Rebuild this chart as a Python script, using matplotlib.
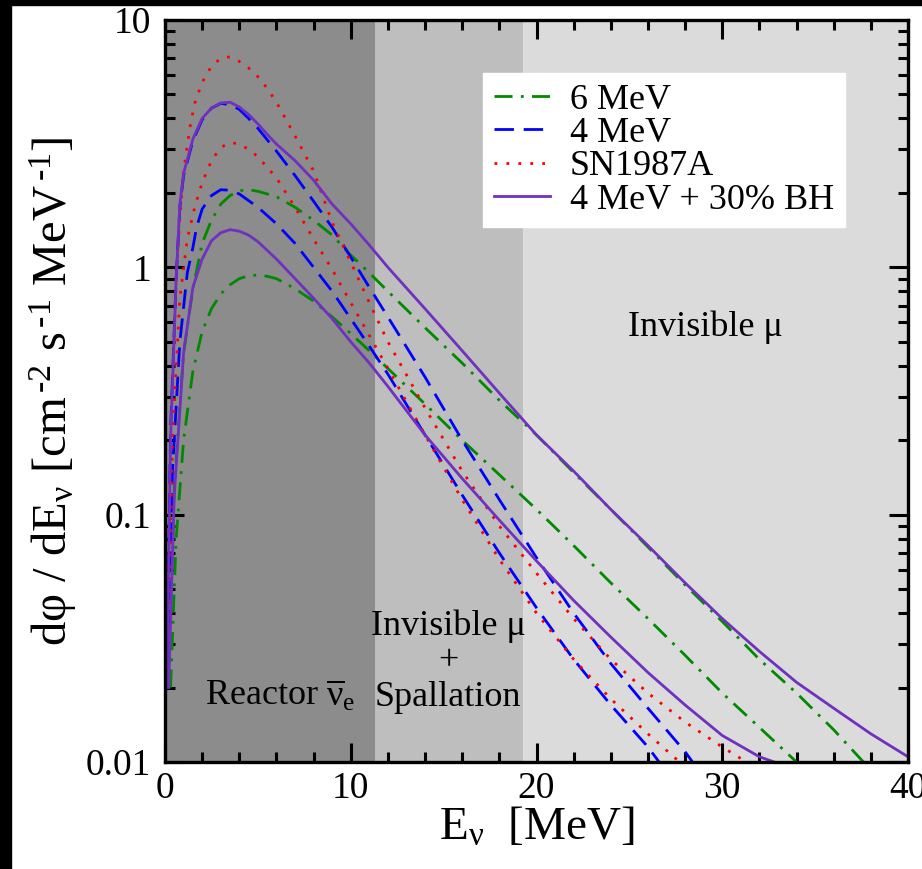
import matplotlib
matplotlib.use("Agg")
import matplotlib.pyplot as plt
from matplotlib.patches import Rectangle
from matplotlib.ticker import MultipleLocator, LogLocator, NullFormatter, FixedLocator, FixedFormatter

plt.rcParams['font.family'] = ['Liberation Serif', 'DejaVu Serif']
plt.rcParams['mathtext.fontset'] = 'custom'
plt.rcParams['mathtext.rm'] = 'Liberation Serif'
plt.rcParams['mathtext.it'] = 'Liberation Serif'
plt.rcParams['mathtext.default'] = 'regular'

# --- data (E in MeV, flux in cm^-2 s^-1 MeV^-1) ---
e_6u = [0.2, 0.5, 1, 1.5, 2, 2.5, 3, 3.5, 4, 4.5, 5, 6, 7, 8, 9, 10, 11, 12, 14, 16, 18, 20, 22, 24, 26, 28, 30, 32, 34, 36, 37.6]
f_6u = [0.02, 0.13, 0.45, 0.82, 1.25, 1.55, 1.8, 1.95, 2.04, 2.06, 2.03, 1.93, 1.75, 1.55, 1.35, 1.12, 0.95, 0.8, 0.57, 0.41, 0.29, 0.21, 0.148, 0.105, 0.074, 0.052, 0.037, 0.026, 0.019, 0.0135, 0.01]
e_6l = [0.3, 0.6, 1, 1.5, 2, 2.5, 3, 3.5, 4, 4.5, 5, 5.5, 6, 7, 8, 9, 10, 11, 12, 14, 16, 18, 20, 22, 24, 26, 28, 30, 32, 34]
f_6l = [0.02, 0.08, 0.2, 0.38, 0.55, 0.68, 0.78, 0.85, 0.9, 0.925, 0.93, 0.92, 0.9, 0.82, 0.73, 0.63, 0.54, 0.46, 0.39, 0.28, 0.2, 0.145, 0.105, 0.075, 0.053, 0.038, 0.027, 0.019, 0.0138, 0.01]

e_4u = [0.1, 0.3, 0.6, 0.8, 1, 1.5, 2, 2.5, 3, 3.5, 4, 4.5, 5, 6, 7, 8, 9, 10, 11, 12, 14, 16, 18, 20, 22, 24, 26, 28, 28.4]
f_4u = [0.02, 0.22, 0.9, 1.75, 2.35, 3.25, 3.95, 4.4, 4.6, 4.55, 4.35, 4.0, 3.65, 2.95, 2.35, 1.85, 1.45, 1.1, 0.83, 0.63, 0.36, 0.2, 0.115, 0.067, 0.04, 0.025, 0.0165, 0.011, 0.01]
e_4l = [0.15, 0.4, 0.8, 1.2, 1.5, 1.7, 2, 2.5, 3, 3.5, 4, 5, 6, 7, 8, 9, 10, 11, 12, 14, 16, 18, 20, 22, 24, 26, 26.6]
f_4l = [0.02, 0.15, 0.5, 0.95, 1.2, 1.45, 1.72, 1.95, 2.06, 2.05, 1.98, 1.75, 1.5, 1.25, 1.0, 0.8, 0.62, 0.48, 0.37, 0.21, 0.12, 0.07, 0.042, 0.026, 0.017, 0.0115, 0.01]

e_snu = [0.1, 0.3, 0.6, 0.8, 1, 1.2, 1.4, 1.6, 2, 2.5, 3, 3.5, 4, 4.5, 5, 5.5, 6, 7, 8, 9, 10, 11, 12, 14, 16, 18, 20, 22, 24, 26, 28, 30, 31.3]
f_snu = [0.02, 0.2, 0.9, 1.6, 2.45, 3.1, 3.9, 4.6, 5.6, 6.5, 7.0, 7.1, 6.8, 6.4, 5.9, 5.3, 4.65, 3.4, 2.45, 1.52, 1.05, 0.72, 0.5, 0.27, 0.15, 0.09, 0.058, 0.038, 0.026, 0.019, 0.0145, 0.0115, 0.01]
e_snl = [0.15, 0.4, 0.8, 1.2, 1.6, 2, 2.5, 3, 3.5, 4, 4.5, 5, 6, 7, 8, 9, 10, 11, 12, 14, 16, 18, 20, 22, 24, 26, 27.7]
f_snl = [0.02, 0.2, 0.75, 1.3, 1.75, 2.2, 2.7, 3.05, 3.2, 3.15, 3.0, 2.8, 2.3, 1.75, 1.3, 0.98, 0.72, 0.53, 0.39, 0.21, 0.115, 0.066, 0.04, 0.026, 0.018, 0.013, 0.01]

e_bhu = [0.1, 0.3, 0.6, 0.8, 1, 1.5, 2, 2.5, 3, 3.5, 4, 4.5, 5, 5.5, 6, 7, 8, 9, 10, 11, 12, 14, 16, 18, 20, 22, 24, 26, 28, 30, 32, 34, 36, 38, 40]
f_bhu = [0.02, 0.2, 0.9, 1.8, 2.4, 3.3, 4.0, 4.4, 4.62, 4.65, 4.45, 4.15, 3.8, 3.45, 3.15, 2.7, 2.25, 1.8, 1.5, 1.23, 1.0, 0.68, 0.46, 0.31, 0.21, 0.15, 0.105, 0.075, 0.053, 0.038, 0.028, 0.021, 0.0165, 0.013, 0.0105]
e_bhl = [0.2, 0.5, 1, 1.5, 2, 2.5, 3, 3.5, 4, 4.5, 5, 6, 7, 8, 9, 10, 11, 12, 14, 16, 18, 20, 22, 24, 26, 28, 30, 32, 32.8]
f_bhl = [0.02, 0.12, 0.45, 0.83, 1.08, 1.28, 1.38, 1.42, 1.4, 1.35, 1.27, 1.08, 0.9, 0.75, 0.62, 0.5, 0.41, 0.33, 0.21, 0.14, 0.095, 0.065, 0.045, 0.032, 0.023, 0.017, 0.0128, 0.0105, 0.01]

region_edges = [0, 11.3, 19.25, 40]
region_colors = ['#8c8c8c', '#bebebe', '#dbdbdb']

fig = plt.figure(figsize=(9.22, 8.69), dpi=100)
ax = fig.add_axes([165/922, 1-762/869, 743/922, 742/869])

for i in range(3):
    ax.axvspan(region_edges[i], region_edges[i+1], color=region_colors[i], lw=0, zorder=0)

green, blue, red, purple = '#008a00', '#0000ff', '#ff0000', '#7030c0'
lw = 2.0
dashdot = (0, (6.5, 3, 1, 3))
dashed = (0, (7, 3.5))
dotted = (0, (1, 3.3))

ax.plot(e_6u, f_6u, color=green, lw=lw, ls=dashdot, label='6 MeV')
ax.plot(e_6l, f_6l, color=green, lw=lw, ls=dashdot)
ax.plot(e_4u, f_4u, color=blue, lw=lw, ls=dashed, label='4 MeV')
ax.plot(e_4l, f_4l, color=blue, lw=lw, ls=dashed)
ax.plot(e_snu, f_snu, color=red, lw=lw, ls=dotted, label='SN1987A')
ax.plot(e_snl, f_snl, color=red, lw=lw, ls=dotted)
ax.plot(e_bhu, f_bhu, color=purple, lw=lw, label='4 MeV + 30% BH')
ax.plot(e_bhl, f_bhl, color=purple, lw=lw)

ax.set_yscale('log')
ax.set_xlim(0, 40)
ax.set_ylim(0.01, 10)

ax.xaxis.set_major_locator(MultipleLocator(10))
ax.xaxis.set_minor_locator(MultipleLocator(2))
ax.yaxis.set_major_locator(FixedLocator([0.01, 0.1, 1, 10]))
ax.yaxis.set_major_formatter(FixedFormatter(['0.01', '0.1', '1', '10']))
ax.yaxis.set_minor_locator(LogLocator(base=10, subs=range(2, 10)))
ax.yaxis.set_minor_formatter(NullFormatter())
ax.tick_params(which='both', direction='in', top=True, right=True, width=2.2, labelsize=27)
ax.tick_params(which='major', length=14)
ax.tick_params(which='minor', length=7)
ax.tick_params(axis='x', pad=7)
ax.tick_params(axis='y', pad=10)
for s in ax.spines.values():
    s.set_linewidth(2.4)

ax.set_xlabel('E$_ν$  [MeV]', fontsize=34, labelpad=0)
ax.set_ylabel('dφ / dE$_ν$ [cm$^{\\,‐2}$ s$^{\\,‐1}$ MeV$^{\\,‐1}$]', fontsize=35, labelpad=5)

ax.text(6.2, 0.0185, 'Reactor $\\overline{ν}_e$', fontsize=26, ha='center', va='center')
ax.text(15.25, 0.0255, 'Invisible μ\n+\nSpallation', fontsize=26, ha='center', va='center',
        linespacing=1.1)
ax.text(29.1, 0.57, 'Invisible μ', fontsize=26, ha='center', va='center')

leg = ax.legend(loc='upper left', bbox_to_anchor=(0.428, 0.929), fontsize=26, frameon=True,
                fancybox=False, edgecolor='white', framealpha=1, handlelength=1.55,
                handletextpad=0.55, labelspacing=0.0, borderpad=0.3, borderaxespad=0)

# black border strips of the original screenshot
fig.patches.append(Rectangle((0, 0), 11/922, 1, transform=fig.transFigure, color='black', zorder=10))
fig.patches.append(Rectangle((0, 1-5/869), 1, 5/869, transform=fig.transFigure, color='black', zorder=10))

fig.savefig('out.png', dpi=100)
